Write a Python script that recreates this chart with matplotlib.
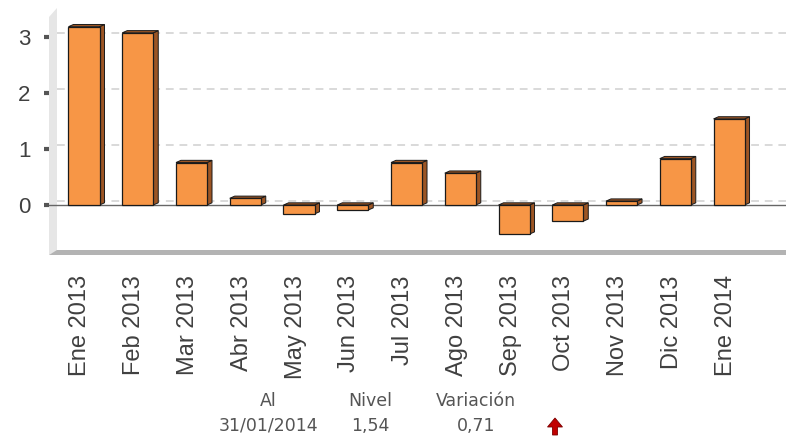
import matplotlib
matplotlib.use("Agg")
import matplotlib.pyplot as plt
from matplotlib.patches import Polygon, FancyArrow
from matplotlib.transforms import ScaledTranslation, blended_transform_factory

categories = ["Ene 2013", "Feb 2013", "Mar 2013", "Abr 2013", "May 2013", "Jun 2013",
              "Jul 2013", "Ago 2013", "Sep 2013", "Oct 2013", "Nov 2013", "Dic 2013", "Ene 2014"]
values = [3.19, 3.08, 0.76, 0.12, -0.16, -0.09, 0.76, 0.57, -0.52, -0.29, 0.07, 0.83, 1.54]
yticks = [0, 1, 2, 3]
footer_headers = ["Al", "Nivel", "Variación"]
footer_values = ["31/01/2014", "1,54", "0,71"]

W, H = 786, 437
fig = plt.figure(figsize=(W / 100, H / 100), dpi=100)
fig.patch.set_facecolor("white")

ax_l, ax_r, ax_t, ax_b = 49, 786, 8, 255
ax = fig.add_axes([ax_l / W, (H - ax_b) / H, (ax_r - ax_l) / W, (ax_b - ax_t) / H])
ax.set_facecolor("white")

x = list(range(len(categories)))
ax.set_xlim(-0.651, 13.06)
ax.set_ylim(-0.894, 3.524)
for s in ax.spines.values():
    s.set_visible(False)

def ax_frac(px, py):
    return ((px - ax_l) / (ax_r - ax_l), (ax_b - py) / (ax_b - ax_t))

# wall and floor
wall = Polygon([ax_frac(49, 17), ax_frac(57, 8), ax_frac(57, 251), ax_frac(49, 255)],
               closed=True, transform=ax.transAxes, facecolor="#e6e6e6", edgecolor="none", zorder=0)
ax.add_patch(wall)
floor = Polygon([ax_frac(49, 255), ax_frac(57, 250), ax_frac(786, 250), ax_frac(786, 255)],
                closed=True, transform=ax.transAxes, facecolor="#b3b3b3", edgecolor="none", zorder=0.5)
ax.add_patch(floor)

# dashed gridlines on the back wall
btrans = blended_transform_factory(ax.transAxes, ax.transData)
for t in yticks:
    ax.plot([8 / (ax_r - ax_l), 1], [t + 0.07, t + 0.07], transform=btrans,
            color="#d9d9d9", lw=1.4, ls=(0, (4, 3)), zorder=1)
ax.axhline(0, color="#666666", lw=1.0, zorder=1.5)

# bars with 3D faces
w = 0.577
dx, dy = 5 / 53.75, 2.2 / 55.9
front = "#f79646"
side = "#9c5524"
ax.bar(x, values, width=w, color=front, edgecolor="#1a1a1a", linewidth=0.9, zorder=3)
for xi, v in zip(x, values):
    r = xi + w / 2
    l = xi - w / 2
    top = max(v, 0)
    ax.add_patch(Polygon([(r, 0), (r + dx, dy), (r + dx, v + dy), (r, v)], closed=True,
                         facecolor=side, edgecolor="#1a1a1a", linewidth=0.7, zorder=2.9))
    ax.add_patch(Polygon([(l, top), (l + dx, top + dy), (r + dx, top + dy), (r, top)], closed=True,
                         facecolor=side, edgecolor="#1a1a1a", linewidth=0.7, zorder=2.9))

# ticks
ax.set_yticks(yticks)
ax.set_yticklabels([str(t) for t in yticks], fontsize=16, color="#404040", family="Liberation Sans")
ax.tick_params(axis="y", length=3.5, width=3, color="#555555", pad=10)
ax.set_xticks(x)
ax.set_xticklabels(categories, rotation=90, fontsize=17, color="#404040", family="Liberation Sans")
ax.tick_params(axis="x", length=0, pad=14.5)
off = ScaledTranslation(-3.5 / 100, 0, fig.dpi_scale_trans)
for lab in ax.get_xticklabels():
    lab.set_transform(lab.get_transform() + off)

# footer
hx = [268, 370, 476]
for px, h, v in zip(hx, footer_headers, footer_values):
    fig.text(px / W, 1 - 401 / H, h, ha="center", va="center", fontsize=12.5, color="#555555", family="DejaVu Sans")
    fig.text(px / W, 1 - 426 / H, v, ha="center", va="center", fontsize=12.5, color="#555555", family="DejaVu Sans")

arrow = FancyArrow(5.55, (H - 435) / 100, 0, 0.17, width=0.05, head_width=0.15, head_length=0.09,
                   length_includes_head=True, transform=fig.dpi_scale_trans,
                   facecolor="#c00000", edgecolor="#7a0000", linewidth=0.6)
fig.add_artist(arrow)

fig.savefig("out.png", dpi=100)
